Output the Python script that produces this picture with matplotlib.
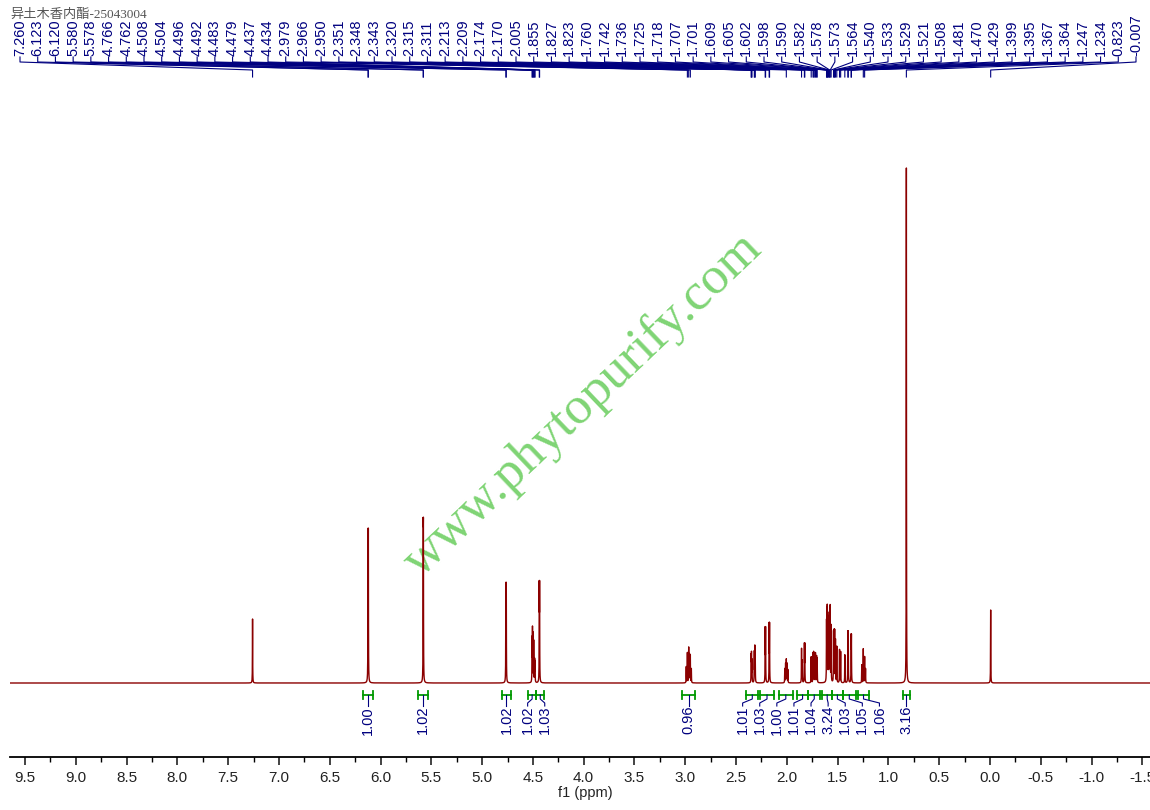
import numpy as np
import matplotlib
matplotlib.use("Agg")
import matplotlib.pyplot as plt
import matplotlib.transforms as mtransforms
from matplotlib.lines import Line2D
from matplotlib.ticker import MultipleLocator, FormatStrFormatter

plt.rcParams["font.family"] = ["Liberation Sans", "DejaVu Sans"]
plt.rcParams["axes.unicode_minus"] = False

# ---------------------------------------------------------------------------
# data
# ---------------------------------------------------------------------------
TITLE = "异土木香内酯-25043004"
WATERMARK = "www.phytopurify.com"

# labelled lines (ppm) and their heights (arbitrary intensity units)
peak_ppm = [7.260, 6.123, 6.120, 5.580, 5.578, 4.766, 4.762, 4.508, 4.504, 4.496,
            4.492, 4.483, 4.479, 4.437, 4.434, 2.979, 2.966, 2.950, 2.351, 2.348,
            2.343, 2.320, 2.315, 2.311, 2.213, 2.209, 2.174, 2.170, 2.005, 1.855,
            1.827, 1.823, 1.760, 1.742, 1.736, 1.725, 1.718, 1.707, 1.701, 1.609,
            1.605, 1.602, 1.598, 1.590, 1.582, 1.578, 1.573, 1.564, 1.540, 1.533,
            1.529, 1.521, 1.508, 1.481, 1.470, 1.429, 1.399, 1.395, 1.367, 1.364,
            1.247, 1.234, 0.823, -0.007]
peak_height = [64, 136, 136, 131, 131, 93, 93, 42, 52, 46,
               38, 22, 20, 90, 90, 30, 35, 27, 25, 27,
               22, 30, 34, 28, 52, 52, 56, 56, 23, 34,
               37, 37, 26, 29, 30, 28, 29, 26, 24, 56,
               60, 63, 58, 57, 62, 66, 72, 56, 50, 48,
               48, 42, 36, 33, 31, 28, 48, 48, 43, 43,
               34, 26, 515, 73]

# unlabelled shoulder lines inside multiplets
extra_ppm = [2.990, 2.958, 2.940, 2.020, 2.012, 1.998, 1.990, 1.848, 1.262, 1.225]
extra_height = [16, 28, 14, 14, 19, 19, 13, 22, 18, 14]

# integrals: region limits (ppm) and values
int_start = [6.17, 5.63, 4.80, 4.55, 4.465, 3.03, 2.40, 2.26, 2.08, 1.90, 1.79, 1.65, 1.555, 1.45, 1.30, 0.86]
int_end = [6.07, 5.53, 4.72, 4.465, 4.39, 2.90, 2.28, 2.13, 1.94, 1.79, 1.67, 1.555, 1.45, 1.32, 1.19, 0.79]
int_value = [1.00, 1.02, 1.02, 1.02, 1.03, 0.96, 1.01, 1.03, 1.00, 1.01, 1.04, 3.24, 1.03, 1.05, 1.06, 3.16]

# ---------------------------------------------------------------------------
W, H, DPI = 1150, 810, 100
LINE_COL = "#8b0000"
LABEL_COL = "#00007f"
INT_COL = "#009900"

fig = plt.figure(figsize=(W / DPI, H / DPI), dpi=DPI)
ax = fig.add_axes([10 / W, (H - 757) / H, 1150 / W, 657 / H])
ax.set_xlim(9.648, -1.674)
ax.set_ylim(-74, 583)

# lineshape: narrow lorentzians summed over the line list
gamma = 0.0012
all_ppm = np.array(peak_ppm + extra_ppm)
all_h = np.array(peak_height + extra_height, dtype=float)
x = np.union1d(np.arange(-1.75, 9.7, 0.0004), all_ppm)
spec = np.zeros_like(x)
for p, h in zip(all_ppm, all_h):
    spec += h / (1.0 + ((x - p) / gamma) ** 2)
ax.plot(x, spec, color=LINE_COL, lw=1.0, zorder=3)

for side in ("top", "left", "right"):
    ax.spines[side].set_visible(False)
ax.spines["bottom"].set_linewidth(1.3)
ax.set_yticks([])
ax.xaxis.set_major_locator(MultipleLocator(0.5))
ax.xaxis.set_minor_locator(MultipleLocator(0.25))
ax.xaxis.set_major_formatter(FormatStrFormatter("%.1f"))
ax.tick_params(axis="x", which="major", length=6, width=1.2, labelsize=11, pad=4, colors="#222222")
ax.tick_params(axis="x", which="minor", length=3.5, width=1.0)
ax.set_xlabel("f1 (ppm)", fontsize=10.5, labelpad=1, color="#222222")
ax.patch.set_visible(False)

# pixel transform, origin top-left
px = mtransforms.Affine2D().scale(1 / DPI, -1 / DPI).translate(0, H / DPI) + fig.dpi_scale_trans


def to_px(ppm):
    return ax.transData.transform((ppm, 0))[0] * W / fig.bbox.width


# watermark, behind the spectrum line
fig.text(583 / W, 1 - 405 / H, WATERMARK, rotation=43.6, ha="center", va="center",
         fontsize=38, color="#7fd474", family=["Liberation Serif"], zorder=-1)

# peak labels across the top
lab_x = np.linspace(20, 1136, len(peak_ppm))
for lx, p in zip(lab_x, peak_ppm):
    pk = to_px(p)
    fig.add_artist(Line2D([lx, lx, pk, pk], [57, 62, 70, 77], transform=px,
                          color=LABEL_COL, lw=0.8))
    fig.text(lx / W, 1 - 56 / H, f"{p:.3f}", rotation=90, ha="center", va="bottom",
             fontsize=10.5, color=LABEL_COL)

# title over the labels
fig.text(10 / W, 1 - 15 / H, TITLE, ha="left", va="center", fontsize=9.5,
         color="#555555", family=["Liberation Serif", "Noto Sans CJK SC"], zorder=5)

# integrals
centers = [(to_px(a) + to_px(b)) / 2 for a, b in zip(int_start, int_end)]


def spread(pos, gap):
    groups = [[i] for i in range(len(pos))]
    changed = True
    place = list(pos)
    while changed:
        changed = False
        for g in groups:
            m = np.mean([pos[i] for i in g])
            for k, i in enumerate(g):
                place[i] = m + (k - (len(g) - 1) / 2) * gap
        for j in range(len(groups) - 1):
            if place[groups[j + 1][0]] - place[groups[j][-1]] < gap:
                groups[j] = groups[j] + groups.pop(j + 1)
                changed = True
                break
    return place


lab_int = spread(centers, 17.1)
for a, b, v, c, lx in zip(int_start, int_end, int_value, centers, lab_int):
    xa, xb = to_px(a), to_px(b)
    fig.add_artist(Line2D([xa, xb], [695, 695], transform=px, color=INT_COL, lw=1.3))
    for xe in (xa, xb):
        fig.add_artist(Line2D([xe, xe], [691, 699], transform=px, color=INT_COL, lw=1.3))
    fig.add_artist(Line2D([c, c, lx, lx], [695, 699, 703, 706], transform=px,
                          color=LABEL_COL, lw=0.8))
    fig.text(lx / W, 1 - 706 / H, f"{v:.2f}", rotation=90, ha="center", va="top",
             fontsize=10.5, color=LABEL_COL)

fig.savefig("out.png", dpi=DPI)
